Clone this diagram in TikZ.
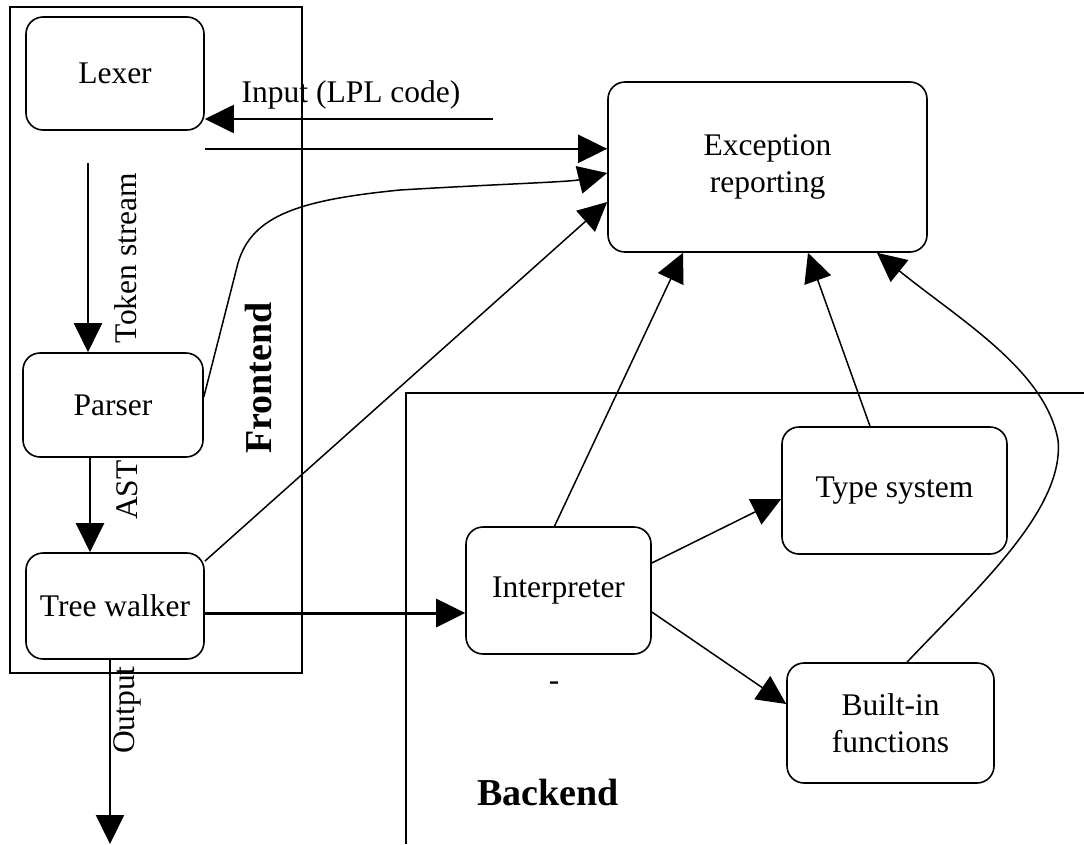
\documentclass[tikz,border=0pt]{standalone}
\usepackage{fontspec}
\setmainfont{Liberation Serif}
\usetikzlibrary{arrows.meta}

\begin{document}
\begin{tikzpicture}[x=1pt, y=-1pt,
    font=\fontsize{31.5}{37}\selectfont,
    box/.style={draw, line width=1.6pt, rounded corners=17pt, align=center, inner sep=0pt},
    arr/.style={-{Triangle[length=29pt, width=28pt]}, line width=1.5pt},
    lbl/.style={inner sep=0pt},
    title/.style={inner sep=0pt, font=\fontsize{38}{44}\selectfont\bfseries}]
    \useasboundingbox (0,0) rectangle (1084,844);

    % Frontend side
    \draw[line width=1.5pt] (10,7) rectangle (302,673);
    \node[box, minimum width=178pt, minimum height=113pt] (lexer) at (115,73.5) {Lexer};
    \node[box, minimum width=180pt, minimum height=104pt] (parser) at (113,405) {Parser};
    \node[box, minimum width=178pt, minimum height=106pt] (walker) at (115,606) {Tree walker};
    \node[title, rotate=90] (frontlbl) at (258,378) {Frontend};

    % Backend side
    \draw[line width=1.5pt] (406,844) -- (406,393) -- (1084,393);
    \node[box, minimum width=319pt, minimum height=170pt] (exc) at (767.5,167) {Exception\\reporting};
    \node[box, minimum width=185pt, minimum height=127pt] (interp) at (558.5,590.5) {Interpreter};
    \node[box, minimum width=225pt, minimum height=127pt] (types) at (894.5,490.5) {Type system};
    \node[box, minimum width=207pt, minimum height=120pt] (builtin) at (890.5,723) {Built-in\\functions};
    \node[lbl] (dash) at (554,686) {-};
    \node[title] (backlbl) at (548,792) {Backend};

    % Frontend pipeline
    \coordinate (inputsrc) at (493,119);
    \draw[arr, line width=2pt] (inputsrc) -- (inputsrc -| lexer.east);
    \node[lbl] (inputlbl) at (351,95) {Input (LPL code)};
    \coordinate (tokstart) at (88,163);
    \draw[arr, line width=2.2pt] (tokstart) -- (tokstart |- parser.north);
    \node[lbl, rotate=90] (toklbl) at (126,258) {Token stream};
    \draw[arr, line width=2.2pt] ([xshift=-23pt]parser.south) -- ([xshift=-25pt]walker.north);
    \node[lbl, rotate=90] (astlbl) at (127,490) {AST};
    \coordinate (outend) at (110,844);
    \draw[arr, line width=2.2pt] (walker.south -| outend) -- (outend);
    \node[lbl, rotate=90] (outlbl) at (127,710) {Output};
    \coordinate (walkout) at ([yshift=-7pt]walker.east);
    \draw[arr, line width=3pt] (walkout) -- (walkout -| interp.west);

    % Errors go to exception reporting
    \coordinate (lexout) at ([yshift=-18pt]lexer.south east);
    \draw[arr, line width=2pt] (lexout) -- (lexout -| exc.west);
    \draw[arr] ([yshift=8pt]parser.east) -- (238,263)
        .. controls (252,215) and (300,200) .. (400,190)
        .. controls (500,184) and (570,182) .. ([yshift=-6pt]exc.west);
    \draw[arr] ([yshift=-9pt]walker.north east) -- ([yshift=-35pt]exc.west);
    \draw[arr] ([xshift=-4pt]interp.north) -- ([xshift=-84.5pt]exc.south);
    \draw[arr] ([xshift=-24.5pt]types.north) -- ([xshift=40.5pt]exc.south);
    \draw[arr] ([xshift=16.5pt]builtin.north)
        .. controls (975,590) and (1065,510) .. (1058,440)
        .. controls (1045,370) and (960,320) .. ([xshift=109.5pt]exc.south);

    % Interpreter calls
    \draw[arr] ([yshift=27.5pt]interp.east) -- ([yshift=-8.5pt]types.west);
    \draw[arr] ([yshift=-21.5pt]interp.east) -- ([yshift=19pt]builtin.west);
\end{tikzpicture}
\end{document}
